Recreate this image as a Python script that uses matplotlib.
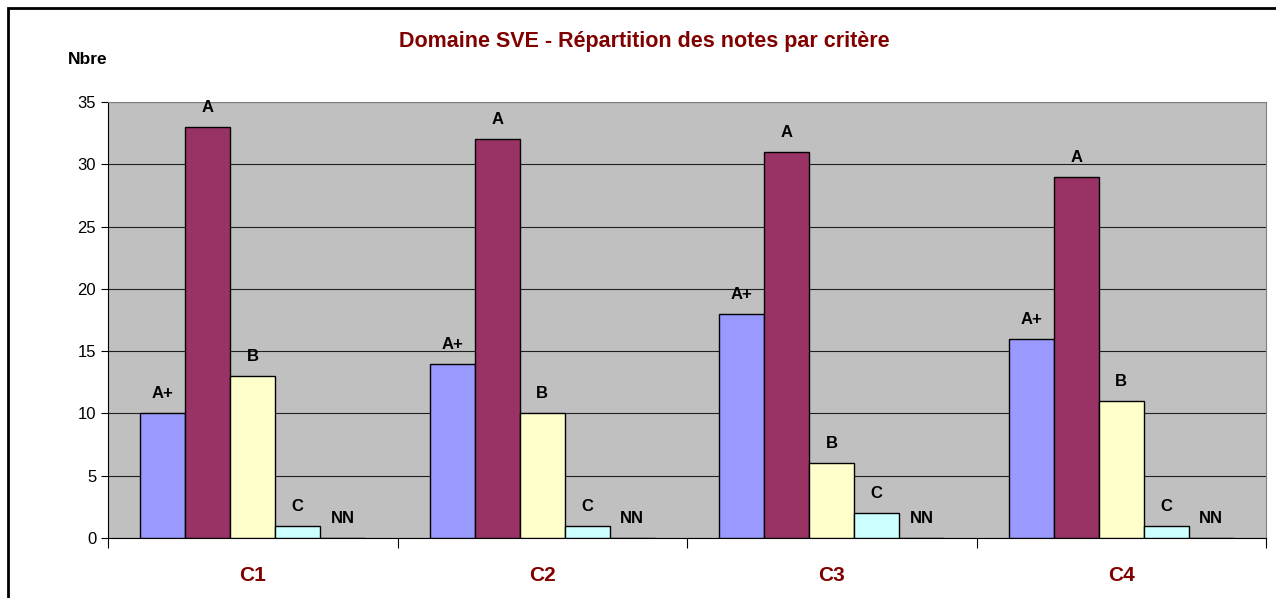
import numpy as np
import matplotlib.pyplot as plt
from matplotlib.patches import Rectangle

plt.rcParams['font.family'] = ['Liberation Sans', 'DejaVu Sans']

criteria = ["C1", "C2", "C3", "C4"]
grades = ["A+", "A", "B", "C", "NN"]
counts = {
    "A+": [10, 14, 18, 16],
    "A": [33, 32, 31, 29],
    "B": [13, 10, 6, 11],
    "C": [1, 1, 2, 1],
    "NN": [0, 0, 0, 0],
}
colors = ["#9999FF", "#993366", "#FFFFCC", "#CCFFFF", "#FFFFFF"]

fig = plt.figure(figsize=(12.76, 5.98), dpi=100)
W, H = 1276, 598
ax = fig.add_axes([108 / W, 1 - 538 / H, (1266 - 108) / W, (538 - 102) / H])
ax.set_facecolor("#C0C0C0")

# frame around whole chart
fig.patches.append(Rectangle((8 / W, -0.1), 1.2, 1 - 8 / H + 0.1, transform=fig.transFigure,
                             fill=False, edgecolor="black", linewidth=2))

x = np.arange(len(criteria))
bw = 45 / 289.5
for i, g in enumerate(grades):
    pos = x - 2 * bw + i * bw
    vals = counts[g]
    ax.bar(pos, vals, width=bw, color=colors[i], edgecolor="black", linewidth=1, zorder=3)
    for p, v in zip(pos, vals):
        ax.annotate(g, (p, v), xytext=(0, 14), textcoords="offset points",
                    ha="center", va="center", fontsize=12, fontweight="bold")

ax.set_xlim(-0.5, len(criteria) - 0.5)
ax.set_ylim(0, 35)
ax.set_yticks(range(0, 36, 5))
ax.yaxis.grid(True, color="#202020", linewidth=0.8)
ax.set_axisbelow(True)
ax.tick_params(axis="y", labelsize=12, length=5, direction="out")
ax.set_xticks(np.arange(-0.5, len(criteria), 1), minor=False)
ax.set_xticklabels([])
ax.set_xticks(x, minor=True)
ax.set_xticklabels(criteria, minor=True, fontsize=15, fontweight="bold", color="#800000")
ax.tick_params(axis="x", which="major", length=7, direction="out")
ax.tick_params(axis="x", which="minor", length=0, pad=20)
for s in ax.spines.values():
    s.set_color("#808080")
ax.spines["left"].set_color("black")
ax.spines["bottom"].set_color("black")

fig.text(644 / W, 1 - 41 / H, "Domaine SVE - Répartition des notes par critère",
         ha="center", va="center", fontsize=15.5, fontweight="bold", color="#800000")
fig.text(68 / W, 1 - 60 / H, "Nbre", ha="left", va="center", fontsize=12.5, fontweight="bold")

fig.savefig("out.png", dpi=100)
